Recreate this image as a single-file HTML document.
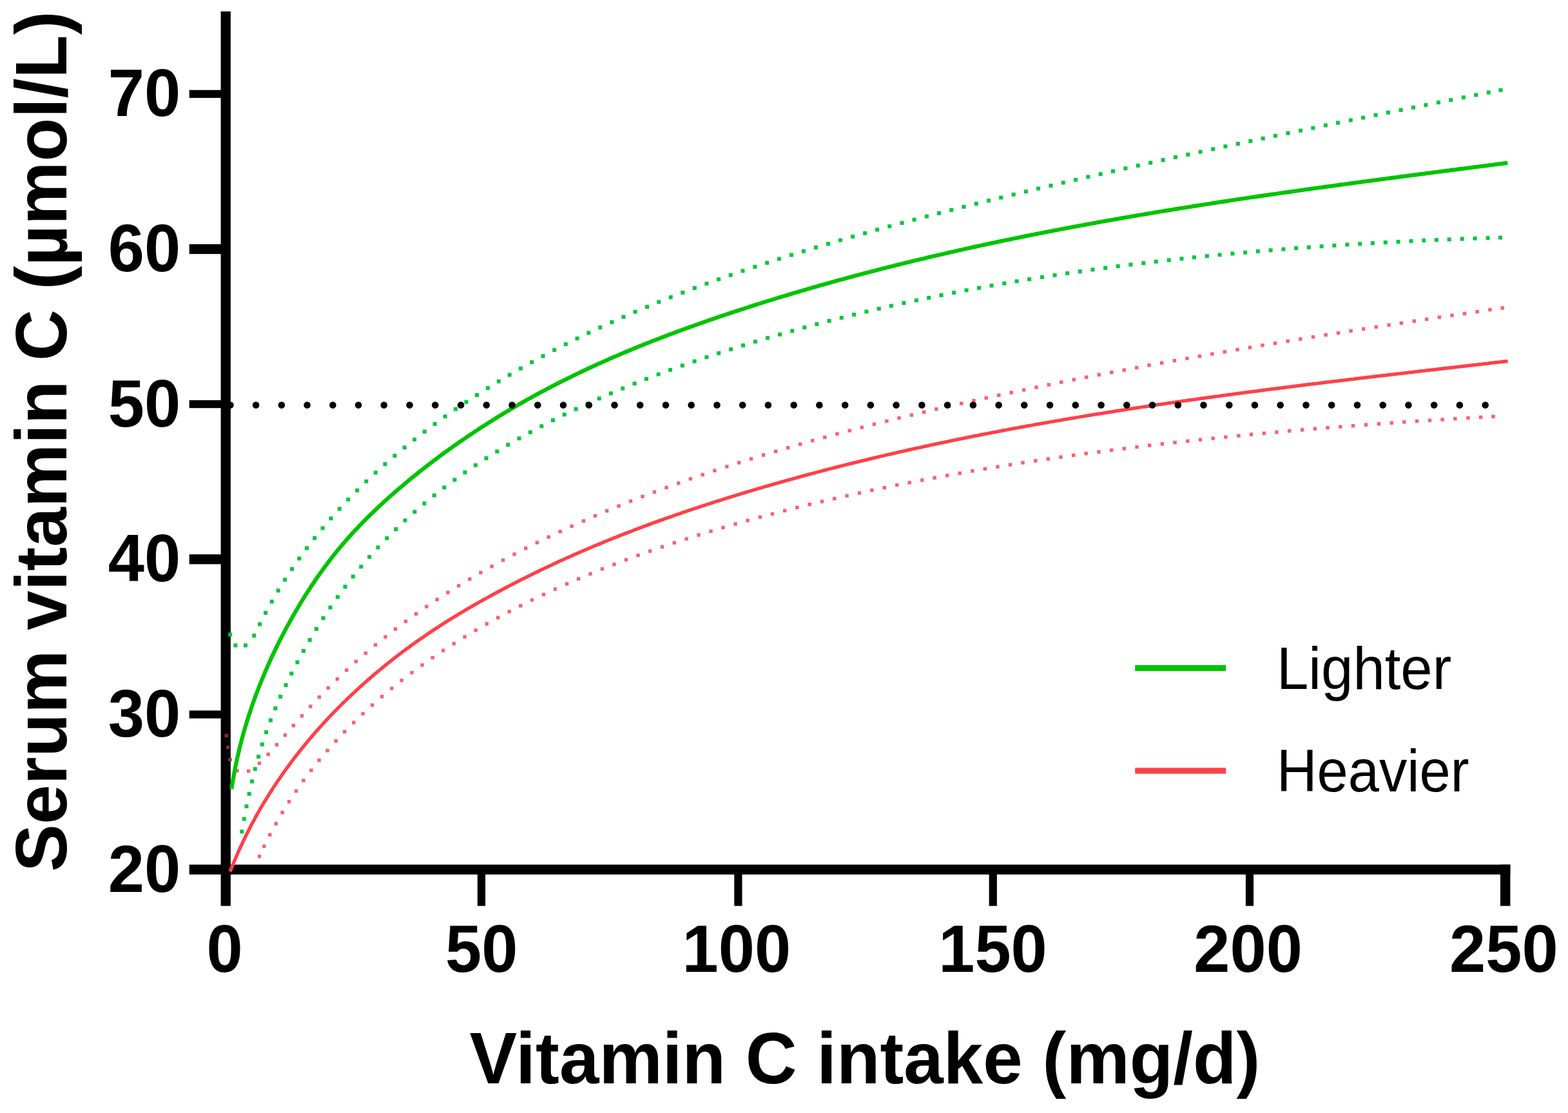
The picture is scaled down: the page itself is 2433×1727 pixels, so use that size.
<!DOCTYPE html>
<html><head><meta charset="utf-8"><title>Serum vitamin C vs intake</title>
<style>
html,body{margin:0;padding:0;background:#fff;}
svg{display:block;}
text{font-family:"Liberation Sans",Arial,Helvetica,sans-serif;fill:#000;}
</style></head><body>
<svg width="2433" height="1727" viewBox="0 0 2433 1727">
<rect width="2433" height="1727" fill="#fff"/>
<g fill="#000"><rect x="342.6" y="17.7" width="15.3" height="1388.0"/><rect x="293.7" y="1341.6" width="2049.7" height="15.3"/><rect x="293.7" y="1102.5" width="49.9" height="12.2"/><rect x="293.7" y="860.2" width="49.9" height="15.2"/><rect x="293.7" y="621.0" width="49.9" height="12.2"/><rect x="293.7" y="378.9" width="49.9" height="15.2"/><rect x="293.7" y="139.7" width="49.9" height="12.2"/><rect x="740.9" y="1355.9" width="12.2" height="49.8"/><rect x="1139.3" y="1355.9" width="12.2" height="49.8"/><rect x="1534.7" y="1355.9" width="12.2" height="49.8"/><rect x="1932.9" y="1355.9" width="12.2" height="49.8"/><rect x="2328" y="1341.6" width="15.4" height="64.1"/></g>
<g font-size="104" font-weight="bold"><text x="280.3" y="1383.8" text-anchor="end" transform="translate(280.3 0) scale(0.972 1) translate(-280.3 0)">20</text><text x="280.3" y="1143.1" text-anchor="end" transform="translate(280.3 0) scale(0.972 1) translate(-280.3 0)">30</text><text x="280.3" y="902.5" text-anchor="end" transform="translate(280.3 0) scale(0.972 1) translate(-280.3 0)">40</text><text x="280.3" y="661.8" text-anchor="end" transform="translate(280.3 0) scale(0.972 1) translate(-280.3 0)">50</text><text x="280.3" y="421.1" text-anchor="end" transform="translate(280.3 0) scale(0.972 1) translate(-280.3 0)">60</text><text x="280.3" y="180.3" text-anchor="end" transform="translate(280.3 0) scale(0.972 1) translate(-280.3 0)">70</text><text x="348.5" y="1508.0" text-anchor="middle" transform="translate(348.5 0) scale(0.972 1) translate(-348.5 0)">0</text><text x="747.2" y="1508.0" text-anchor="middle" transform="translate(747.2 0) scale(0.972 1) translate(-747.2 0)">50</text><text x="1142.8" y="1508.0" text-anchor="middle" transform="translate(1142.8 0) scale(0.972 1) translate(-1142.8 0)">100</text><text x="1540.5" y="1508.0" text-anchor="middle" transform="translate(1540.5 0) scale(0.972 1) translate(-1540.5 0)">150</text><text x="1936.6" y="1508.0" text-anchor="middle" transform="translate(1936.6 0) scale(0.972 1) translate(-1936.6 0)">200</text><text x="2333.4" y="1508.0" text-anchor="middle" transform="translate(2333.4 0) scale(0.972 1) translate(-2333.4 0)">250</text></g>
<g fill="#00c83a"><rect x="354.2" y="981.6" width="6.0" height="6.0" fill="#00c83a"/><rect x="362.4" y="998.4" width="6.0" height="6.0" fill="#00c83a"/><rect x="378.0" y="998.4" width="6.0" height="6.0" fill="#00c83a"/><rect x="391.3" y="983.3" width="6.0" height="6.0"/><rect x="400.0" y="965.5" width="6.0" height="6.0"/><rect x="409.1" y="947.9" width="6.0" height="6.0"/><rect x="418.7" y="930.5" width="6.0" height="6.0"/><rect x="428.7" y="913.4" width="6.0" height="6.0"/><rect x="439.1" y="896.5" width="6.0" height="6.0"/><rect x="450.0" y="879.9" width="6.0" height="6.0"/><rect x="461.3" y="863.6" width="6.0" height="6.0"/><rect x="473.1" y="847.6" width="6.0" height="6.0"/><rect x="485.2" y="831.9" width="6.0" height="6.0"/><rect x="497.7" y="816.5" width="6.0" height="6.0"/><rect x="510.5" y="801.4" width="6.0" height="6.0"/><rect x="523.8" y="786.6" width="6.0" height="6.0"/><rect x="537.3" y="772.1" width="6.0" height="6.0"/><rect x="551.2" y="757.9" width="6.0" height="6.0"/><rect x="565.3" y="744.0" width="6.0" height="6.0"/><rect x="579.8" y="730.4" width="6.0" height="6.0"/><rect x="594.5" y="717.1" width="6.0" height="6.0"/><rect x="609.4" y="704.1" width="6.0" height="6.0"/><rect x="624.7" y="691.4" width="6.0" height="6.0"/><rect x="640.1" y="678.9" width="6.0" height="6.0"/><rect x="655.8" y="666.7" width="6.0" height="6.0"/><rect x="671.7" y="654.8" width="6.0" height="6.0"/><rect x="687.7" y="643.2" width="6.0" height="6.0"/><rect x="704.0" y="631.8" width="6.0" height="6.0"/><rect x="720.5" y="620.7" width="6.0" height="6.0"/><rect x="737.0" y="609.9" width="6.0" height="6.0"/><rect x="753.8" y="599.2" width="6.0" height="6.0"/><rect x="770.8" y="588.8" width="6.0" height="6.0"/><rect x="787.7" y="578.7" width="6.0" height="6.0"/><rect x="804.9" y="568.7" width="6.0" height="6.0"/><rect x="822.2" y="559.0" width="6.0" height="6.0"/><rect x="839.6" y="549.5" width="6.0" height="6.0"/><rect x="857.2" y="540.1" width="6.0" height="6.0"/><rect x="874.8" y="531.1" width="6.0" height="6.0"/><rect x="892.6" y="522.2" width="6.0" height="6.0"/><rect x="910.3" y="513.5" width="6.0" height="6.0"/><rect x="928.3" y="505.0" width="6.0" height="6.0"/><rect x="946.4" y="496.8" width="6.0" height="6.0"/><rect x="964.5" y="488.7" width="6.0" height="6.0"/><rect x="982.6" y="480.8" width="6.0" height="6.0"/><rect x="1001.0" y="473.1" width="6.0" height="6.0"/><rect x="1019.3" y="465.5" width="6.0" height="6.0"/><rect x="1037.7" y="458.2" width="6.0" height="6.0"/><rect x="1056.3" y="451.0" width="6.0" height="6.0"/><rect x="1074.8" y="444.0" width="6.0" height="6.0"/><rect x="1093.4" y="437.1" width="6.0" height="6.0"/><rect x="1112.1" y="430.4" width="6.0" height="6.0"/><rect x="1130.7" y="423.8" width="6.0" height="6.0"/><rect x="1149.5" y="417.3" width="6.0" height="6.0"/><rect x="1168.4" y="411.0" width="6.0" height="6.0"/><rect x="1187.1" y="404.8" width="6.0" height="6.0"/><rect x="1206.0" y="398.7" width="6.0" height="6.0"/><rect x="1225.0" y="392.6" width="6.0" height="6.0"/><rect x="1243.9" y="386.8" width="6.0" height="6.0"/><rect x="1263.0" y="380.9" width="6.0" height="6.0"/><rect x="1282.0" y="375.3" width="6.0" height="6.0"/><rect x="1301.0" y="369.7" width="6.0" height="6.0"/><rect x="1320.1" y="364.2" width="6.0" height="6.0"/><rect x="1339.2" y="358.8" width="6.0" height="6.0"/><rect x="1358.2" y="353.4" width="6.0" height="6.0"/><rect x="1377.3" y="348.2" width="6.0" height="6.0"/><rect x="1396.5" y="343.0" width="6.0" height="6.0"/><rect x="1415.6" y="337.8" width="6.0" height="6.0"/><rect x="1434.9" y="332.7" width="6.0" height="6.0"/><rect x="1454.0" y="327.8" width="6.0" height="6.0"/><rect x="1473.3" y="322.8" width="6.0" height="6.0"/><rect x="1492.4" y="317.9" width="6.0" height="6.0"/><rect x="1511.8" y="313.1" width="6.0" height="6.0"/><rect x="1531.1" y="308.3" width="6.0" height="6.0"/><rect x="1550.2" y="303.6" width="6.0" height="6.0"/><rect x="1569.7" y="298.8" width="6.0" height="6.0"/><rect x="1588.9" y="294.2" width="6.0" height="6.0"/><rect x="1608.1" y="289.6" width="6.0" height="6.0"/><rect x="1627.5" y="285.0" width="6.0" height="6.0"/><rect x="1646.7" y="280.5" width="6.0" height="6.0"/><rect x="1666.0" y="276.0" width="6.0" height="6.0"/><rect x="1685.3" y="271.5" width="6.0" height="6.0"/><rect x="1704.7" y="267.1" width="6.0" height="6.0"/><rect x="1724.0" y="262.6" width="6.0" height="6.0"/><rect x="1743.4" y="258.3" width="6.0" height="6.0"/><rect x="1762.8" y="253.9" width="6.0" height="6.0"/><rect x="1782.2" y="249.6" width="6.0" height="6.0"/><rect x="1801.6" y="245.3" width="6.0" height="6.0"/><rect x="1820.9" y="241.0" width="6.0" height="6.0"/><rect x="1840.3" y="236.8" width="6.0" height="6.0"/><rect x="1859.6" y="232.6" width="6.0" height="6.0"/><rect x="1879.2" y="228.4" width="6.0" height="6.0"/><rect x="1898.4" y="224.2" width="6.0" height="6.0"/><rect x="1917.9" y="220.0" width="6.0" height="6.0"/><rect x="1937.3" y="215.9" width="6.0" height="6.0"/><rect x="1956.7" y="211.8" width="6.0" height="6.0"/><rect x="1976.0" y="207.7" width="6.0" height="6.0"/><rect x="1995.5" y="203.6" width="6.0" height="6.0"/><rect x="2015.0" y="199.6" width="6.0" height="6.0"/><rect x="2034.4" y="195.6" width="6.0" height="6.0"/><rect x="2053.9" y="191.5" width="6.0" height="6.0"/><rect x="2073.1" y="187.5" width="6.0" height="6.0"/><rect x="2092.8" y="183.5" width="6.0" height="6.0"/><rect x="2112.1" y="179.6" width="6.0" height="6.0"/><rect x="2131.6" y="175.6" width="6.0" height="6.0"/><rect x="2151.0" y="171.6" width="6.0" height="6.0"/><rect x="2170.6" y="167.7" width="6.0" height="6.0"/><rect x="2190.0" y="163.8" width="6.0" height="6.0"/><rect x="2209.4" y="159.9" width="6.0" height="6.0"/><rect x="2228.9" y="156.0" width="6.0" height="6.0"/><rect x="2248.2" y="152.1" width="6.0" height="6.0"/><rect x="2267.8" y="148.2" width="6.0" height="6.0"/><rect x="2287.2" y="144.4" width="6.0" height="6.0"/><rect x="2306.8" y="140.5" width="6.0" height="6.0"/><rect x="2325.5" y="136.8" width="6.0" height="6.0"/></g>
<g fill="#00c83a"><rect x="372.3" y="1287.3" width="6.0" height="6.0"/><rect x="375.8" y="1267.7" width="6.0" height="6.0"/><rect x="379.5" y="1248.2" width="6.0" height="6.0"/><rect x="383.6" y="1228.8" width="6.0" height="6.0"/><rect x="388.0" y="1209.5" width="6.0" height="6.0"/><rect x="392.8" y="1190.2" width="6.0" height="6.0"/><rect x="398.1" y="1171.1" width="6.0" height="6.0"/><rect x="403.8" y="1152.1" width="6.0" height="6.0"/><rect x="410.1" y="1133.2" width="6.0" height="6.0"/><rect x="416.9" y="1114.6" width="6.0" height="6.0"/><rect x="424.3" y="1096.2" width="6.0" height="6.0"/><rect x="432.1" y="1078.0" width="6.0" height="6.0"/><rect x="440.5" y="1060.0" width="6.0" height="6.0"/><rect x="449.2" y="1042.2" width="6.0" height="6.0"/><rect x="458.4" y="1024.6" width="6.0" height="6.0"/><rect x="467.9" y="1007.1" width="6.0" height="6.0"/><rect x="477.7" y="989.9" width="6.0" height="6.0"/><rect x="487.9" y="972.9" width="6.0" height="6.0"/><rect x="498.5" y="956.1" width="6.0" height="6.0"/><rect x="509.5" y="939.6" width="6.0" height="6.0"/><rect x="520.9" y="923.3" width="6.0" height="6.0"/><rect x="532.6" y="907.4" width="6.0" height="6.0"/><rect x="544.8" y="891.6" width="6.0" height="6.0"/><rect x="557.3" y="876.3" width="6.0" height="6.0"/><rect x="570.2" y="861.2" width="6.0" height="6.0"/><rect x="583.5" y="846.5" width="6.0" height="6.0"/><rect x="597.3" y="832.1" width="6.0" height="6.0"/><rect x="611.3" y="818.1" width="6.0" height="6.0"/><rect x="625.6" y="804.5" width="6.0" height="6.0"/><rect x="640.4" y="791.2" width="6.0" height="6.0"/><rect x="655.4" y="778.2" width="6.0" height="6.0"/><rect x="670.8" y="765.6" width="6.0" height="6.0"/><rect x="686.4" y="753.4" width="6.0" height="6.0"/><rect x="702.4" y="741.5" width="6.0" height="6.0"/><rect x="718.5" y="730.0" width="6.0" height="6.0"/><rect x="734.9" y="718.8" width="6.0" height="6.0"/><rect x="751.5" y="708.0" width="6.0" height="6.0"/><rect x="768.3" y="697.5" width="6.0" height="6.0"/><rect x="785.3" y="687.2" width="6.0" height="6.0"/><rect x="802.5" y="677.3" width="6.0" height="6.0"/><rect x="819.8" y="667.7" width="6.0" height="6.0"/><rect x="837.3" y="658.3" width="6.0" height="6.0"/><rect x="855.0" y="649.1" width="6.0" height="6.0"/><rect x="872.7" y="640.3" width="6.0" height="6.0"/><rect x="890.6" y="631.7" width="6.0" height="6.0"/><rect x="908.6" y="623.4" width="6.0" height="6.0"/><rect x="926.7" y="615.3" width="6.0" height="6.0"/><rect x="944.9" y="607.4" width="6.0" height="6.0"/><rect x="963.2" y="599.7" width="6.0" height="6.0"/><rect x="981.6" y="592.2" width="6.0" height="6.0"/><rect x="1000.0" y="584.9" width="6.0" height="6.0"/><rect x="1018.6" y="577.8" width="6.0" height="6.0"/><rect x="1037.1" y="570.9" width="6.0" height="6.0"/><rect x="1055.8" y="564.2" width="6.0" height="6.0"/><rect x="1074.6" y="557.6" width="6.0" height="6.0"/><rect x="1093.4" y="551.2" width="6.0" height="6.0"/><rect x="1112.2" y="545.0" width="6.0" height="6.0"/><rect x="1131.1" y="538.9" width="6.0" height="6.0"/><rect x="1150.0" y="532.9" width="6.0" height="6.0"/><rect x="1169.0" y="527.1" width="6.0" height="6.0"/><rect x="1188.0" y="521.4" width="6.0" height="6.0"/><rect x="1207.0" y="515.9" width="6.0" height="6.0"/><rect x="1226.2" y="510.4" width="6.0" height="6.0"/><rect x="1245.3" y="505.1" width="6.0" height="6.0"/><rect x="1264.4" y="500.0" width="6.0" height="6.0"/><rect x="1283.7" y="494.9" width="6.0" height="6.0"/><rect x="1302.8" y="490.0" width="6.0" height="6.0"/><rect x="1322.1" y="485.2" width="6.0" height="6.0"/><rect x="1341.4" y="480.5" width="6.0" height="6.0"/><rect x="1360.8" y="476.0" width="6.0" height="6.0"/><rect x="1379.9" y="471.6" width="6.0" height="6.0"/><rect x="1399.4" y="467.2" width="6.0" height="6.0"/><rect x="1418.9" y="463.0" width="6.0" height="6.0"/><rect x="1438.2" y="459.0" width="6.0" height="6.0"/><rect x="1457.6" y="455.0" width="6.0" height="6.0"/><rect x="1477.2" y="451.1" width="6.0" height="6.0"/><rect x="1496.6" y="447.4" width="6.0" height="6.0"/><rect x="1516.1" y="443.7" width="6.0" height="6.0"/><rect x="1535.6" y="440.2" width="6.0" height="6.0"/><rect x="1555.3" y="436.7" width="6.0" height="6.0"/><rect x="1574.7" y="433.4" width="6.0" height="6.0"/><rect x="1594.2" y="430.2" width="6.0" height="6.0"/><rect x="1614.0" y="427.0" width="6.0" height="6.0"/><rect x="1633.6" y="424.0" width="6.0" height="6.0"/><rect x="1653.2" y="421.0" width="6.0" height="6.0"/><rect x="1672.8" y="418.2" width="6.0" height="6.0"/><rect x="1692.5" y="415.4" width="6.0" height="6.0"/><rect x="1712.1" y="412.7" width="6.0" height="6.0"/><rect x="1731.7" y="410.1" width="6.0" height="6.0"/><rect x="1751.4" y="407.6" width="6.0" height="6.0"/><rect x="1771.3" y="405.2" width="6.0" height="6.0"/><rect x="1790.8" y="402.9" width="6.0" height="6.0"/><rect x="1810.7" y="400.6" width="6.0" height="6.0"/><rect x="1830.5" y="398.4" width="6.0" height="6.0"/><rect x="1849.9" y="396.3" width="6.0" height="6.0"/><rect x="1869.9" y="394.3" width="6.0" height="6.0"/><rect x="1889.5" y="392.4" width="6.0" height="6.0"/><rect x="1909.4" y="390.5" width="6.0" height="6.0"/><rect x="1929.2" y="388.7" width="6.0" height="6.0"/><rect x="1948.9" y="386.9" width="6.0" height="6.0"/><rect x="1968.6" y="385.3" width="6.0" height="6.0"/><rect x="1988.4" y="383.7" width="6.0" height="6.0"/><rect x="2008.2" y="382.1" width="6.0" height="6.0"/><rect x="2027.8" y="380.7" width="6.0" height="6.0"/><rect x="2047.7" y="379.3" width="6.0" height="6.0"/><rect x="2067.4" y="377.9" width="6.0" height="6.0"/><rect x="2087.4" y="376.6" width="6.0" height="6.0"/><rect x="2107.2" y="375.4" width="6.0" height="6.0"/><rect x="2126.9" y="374.3" width="6.0" height="6.0"/><rect x="2146.8" y="373.2" width="6.0" height="6.0"/><rect x="2166.6" y="372.1" width="6.0" height="6.0"/><rect x="2186.5" y="371.1" width="6.0" height="6.0"/><rect x="2206.3" y="370.2" width="6.0" height="6.0"/><rect x="2225.9" y="369.3" width="6.0" height="6.0"/><rect x="2245.7" y="368.5" width="6.0" height="6.0"/><rect x="2265.7" y="367.7" width="6.0" height="6.0"/><rect x="2285.6" y="367.0" width="6.0" height="6.0"/><rect x="2305.6" y="366.3" width="6.0" height="6.0"/><rect x="2325.0" y="365.7" width="6.0" height="6.0"/></g>
<g fill="#ff5f6c"><rect x="348.5" y="1138.6" width="5.4" height="5.4" fill="#8a2a2a"/><rect x="350.9" y="1157.0" width="5.4" height="5.4" fill="#8a2a2a"/><rect x="354.1" y="1175.8" width="5.4" height="5.4" fill="#a03030"/><rect x="365.3" y="1193.3" width="5.4" height="5.4" fill="#ff5f6c"/><rect x="382.9" y="1193.9" width="5.4" height="5.4" fill="#ff5f6c"/><rect x="399.7" y="1181.6" width="5.4" height="5.4"/><rect x="413.5" y="1167.8" width="5.4" height="5.4"/><rect x="426.7" y="1153.0" width="5.4" height="5.4"/><rect x="439.7" y="1138.0" width="5.4" height="5.4"/><rect x="452.6" y="1123.0" width="5.4" height="5.4"/><rect x="465.8" y="1108.1" width="5.4" height="5.4"/><rect x="479.1" y="1093.4" width="5.4" height="5.4"/><rect x="492.7" y="1079.0" width="5.4" height="5.4"/><rect x="506.6" y="1064.8" width="5.4" height="5.4"/><rect x="520.7" y="1050.9" width="5.4" height="5.4"/><rect x="535.1" y="1037.2" width="5.4" height="5.4"/><rect x="549.7" y="1023.8" width="5.4" height="5.4"/><rect x="564.6" y="1010.8" width="5.4" height="5.4"/><rect x="579.8" y="998.0" width="5.4" height="5.4"/><rect x="595.3" y="985.5" width="5.4" height="5.4"/><rect x="610.9" y="973.3" width="5.4" height="5.4"/><rect x="626.8" y="961.4" width="5.4" height="5.4"/><rect x="642.9" y="949.9" width="5.4" height="5.4"/><rect x="659.2" y="938.5" width="5.4" height="5.4"/><rect x="675.6" y="927.5" width="5.4" height="5.4"/><rect x="692.3" y="916.7" width="5.4" height="5.4"/><rect x="709.1" y="906.2" width="5.4" height="5.4"/><rect x="726.1" y="895.9" width="5.4" height="5.4"/><rect x="743.2" y="885.8" width="5.4" height="5.4"/><rect x="760.4" y="876.1" width="5.4" height="5.4"/><rect x="777.8" y="866.5" width="5.4" height="5.4"/><rect x="795.4" y="857.2" width="5.4" height="5.4"/><rect x="813.0" y="848.1" width="5.4" height="5.4"/><rect x="830.7" y="839.2" width="5.4" height="5.4"/><rect x="848.5" y="830.5" width="5.4" height="5.4"/><rect x="866.5" y="822.0" width="5.4" height="5.4"/><rect x="884.5" y="813.7" width="5.4" height="5.4"/><rect x="902.6" y="805.6" width="5.4" height="5.4"/><rect x="920.8" y="797.7" width="5.4" height="5.4"/><rect x="939.0" y="790.0" width="5.4" height="5.4"/><rect x="957.4" y="782.4" width="5.4" height="5.4"/><rect x="975.9" y="775.0" width="5.4" height="5.4"/><rect x="994.3" y="767.7" width="5.4" height="5.4"/><rect x="1012.8" y="760.7" width="5.4" height="5.4"/><rect x="1031.4" y="753.8" width="5.4" height="5.4"/><rect x="1050.1" y="747.0" width="5.4" height="5.4"/><rect x="1068.7" y="740.3" width="5.4" height="5.4"/><rect x="1087.5" y="733.8" width="5.4" height="5.4"/><rect x="1106.2" y="727.5" width="5.4" height="5.4"/><rect x="1125.1" y="721.3" width="5.4" height="5.4"/><rect x="1144.0" y="715.2" width="5.4" height="5.4"/><rect x="1162.9" y="709.2" width="5.4" height="5.4"/><rect x="1181.9" y="703.3" width="5.4" height="5.4"/><rect x="1200.9" y="697.6" width="5.4" height="5.4"/><rect x="1219.9" y="692.0" width="5.4" height="5.4"/><rect x="1239.0" y="686.5" width="5.4" height="5.4"/><rect x="1258.1" y="681.0" width="5.4" height="5.4"/><rect x="1277.1" y="675.8" width="5.4" height="5.4"/><rect x="1296.3" y="670.5" width="5.4" height="5.4"/><rect x="1315.5" y="665.5" width="5.4" height="5.4"/><rect x="1334.6" y="660.5" width="5.4" height="5.4"/><rect x="1353.8" y="655.5" width="5.4" height="5.4"/><rect x="1373.2" y="650.7" width="5.4" height="5.4"/><rect x="1392.3" y="645.9" width="5.4" height="5.4"/><rect x="1411.7" y="641.3" width="5.4" height="5.4"/><rect x="1431.0" y="636.7" width="5.4" height="5.4"/><rect x="1450.2" y="632.1" width="5.4" height="5.4"/><rect x="1469.7" y="627.7" width="5.4" height="5.4"/><rect x="1489.0" y="623.3" width="5.4" height="5.4"/><rect x="1508.3" y="619.0" width="5.4" height="5.4"/><rect x="1527.6" y="614.7" width="5.4" height="5.4"/><rect x="1547.1" y="610.5" width="5.4" height="5.4"/><rect x="1566.5" y="606.4" width="5.4" height="5.4"/><rect x="1585.9" y="602.3" width="5.4" height="5.4"/><rect x="1605.3" y="598.2" width="5.4" height="5.4"/><rect x="1624.7" y="594.3" width="5.4" height="5.4"/><rect x="1644.1" y="590.3" width="5.4" height="5.4"/><rect x="1663.6" y="586.4" width="5.4" height="5.4"/><rect x="1683.0" y="582.6" width="5.4" height="5.4"/><rect x="1702.6" y="578.8" width="5.4" height="5.4"/><rect x="1722.0" y="575.1" width="5.4" height="5.4"/><rect x="1741.5" y="571.4" width="5.4" height="5.4"/><rect x="1761.0" y="567.7" width="5.4" height="5.4"/><rect x="1780.4" y="564.1" width="5.4" height="5.4"/><rect x="1799.9" y="560.5" width="5.4" height="5.4"/><rect x="1819.7" y="556.9" width="5.4" height="5.4"/><rect x="1839.2" y="553.4" width="5.4" height="5.4"/><rect x="1858.7" y="550.0" width="5.4" height="5.4"/><rect x="1878.2" y="546.5" width="5.4" height="5.4"/><rect x="1897.6" y="543.2" width="5.4" height="5.4"/><rect x="1917.3" y="539.8" width="5.4" height="5.4"/><rect x="1936.7" y="536.5" width="5.4" height="5.4"/><rect x="1956.3" y="533.1" width="5.4" height="5.4"/><rect x="1975.9" y="529.9" width="5.4" height="5.4"/><rect x="1995.4" y="526.6" width="5.4" height="5.4"/><rect x="2015.1" y="523.4" width="5.4" height="5.4"/><rect x="2034.8" y="520.2" width="5.4" height="5.4"/><rect x="2054.4" y="517.0" width="5.4" height="5.4"/><rect x="2073.9" y="513.9" width="5.4" height="5.4"/><rect x="2093.4" y="510.8" width="5.4" height="5.4"/><rect x="2113.0" y="507.7" width="5.4" height="5.4"/><rect x="2132.6" y="504.6" width="5.4" height="5.4"/><rect x="2152.4" y="501.5" width="5.4" height="5.4"/><rect x="2171.7" y="498.6" width="5.4" height="5.4"/><rect x="2191.6" y="495.5" width="5.4" height="5.4"/><rect x="2211.0" y="492.6" width="5.4" height="5.4"/><rect x="2230.7" y="489.6" width="5.4" height="5.4"/><rect x="2250.2" y="486.7" width="5.4" height="5.4"/><rect x="2269.9" y="483.8" width="5.4" height="5.4"/><rect x="2289.5" y="480.9" width="5.4" height="5.4"/><rect x="2309.2" y="478.0" width="5.4" height="5.4"/><rect x="2328.5" y="475.2" width="5.4" height="5.4"/></g>
<g fill="#ff5f6c"><rect x="399.8" y="1326.2" width="5.4" height="5.4"/><rect x="407.1" y="1310.4" width="5.4" height="5.4"/><rect x="416.0" y="1292.6" width="5.4" height="5.4"/><rect x="425.4" y="1275.2" width="5.4" height="5.4"/><rect x="435.4" y="1258.0" width="5.4" height="5.4"/><rect x="445.8" y="1241.2" width="5.4" height="5.4"/><rect x="456.8" y="1224.6" width="5.4" height="5.4"/><rect x="468.2" y="1208.4" width="5.4" height="5.4"/><rect x="480.2" y="1192.6" width="5.4" height="5.4"/><rect x="492.5" y="1177.1" width="5.4" height="5.4"/><rect x="505.3" y="1161.9" width="5.4" height="5.4"/><rect x="518.5" y="1147.1" width="5.4" height="5.4"/><rect x="532.1" y="1132.6" width="5.4" height="5.4"/><rect x="546.1" y="1118.5" width="5.4" height="5.4"/><rect x="560.4" y="1104.7" width="5.4" height="5.4"/><rect x="575.0" y="1091.3" width="5.4" height="5.4"/><rect x="589.9" y="1078.2" width="5.4" height="5.4"/><rect x="605.1" y="1065.5" width="5.4" height="5.4"/><rect x="620.5" y="1053.1" width="5.4" height="5.4"/><rect x="636.3" y="1041.0" width="5.4" height="5.4"/><rect x="652.3" y="1029.3" width="5.4" height="5.4"/><rect x="668.5" y="1017.8" width="5.4" height="5.4"/><rect x="684.9" y="1006.7" width="5.4" height="5.4"/><rect x="701.6" y="995.9" width="5.4" height="5.4"/><rect x="718.4" y="985.4" width="5.4" height="5.4"/><rect x="735.5" y="975.2" width="5.4" height="5.4"/><rect x="752.6" y="965.3" width="5.4" height="5.4"/><rect x="770.0" y="955.7" width="5.4" height="5.4"/><rect x="787.5" y="946.3" width="5.4" height="5.4"/><rect x="805.1" y="937.2" width="5.4" height="5.4"/><rect x="822.9" y="928.3" width="5.4" height="5.4"/><rect x="840.7" y="919.8" width="5.4" height="5.4"/><rect x="858.7" y="911.4" width="5.4" height="5.4"/><rect x="876.9" y="903.3" width="5.4" height="5.4"/><rect x="895.0" y="895.4" width="5.4" height="5.4"/><rect x="913.3" y="887.7" width="5.4" height="5.4"/><rect x="931.7" y="880.2" width="5.4" height="5.4"/><rect x="950.2" y="873.0" width="5.4" height="5.4"/><rect x="968.7" y="865.9" width="5.4" height="5.4"/><rect x="987.4" y="859.0" width="5.4" height="5.4"/><rect x="1006.0" y="852.4" width="5.4" height="5.4"/><rect x="1024.8" y="845.9" width="5.4" height="5.4"/><rect x="1043.6" y="839.5" width="5.4" height="5.4"/><rect x="1062.4" y="833.4" width="5.4" height="5.4"/><rect x="1081.4" y="827.4" width="5.4" height="5.4"/><rect x="1100.3" y="821.6" width="5.4" height="5.4"/><rect x="1119.3" y="815.9" width="5.4" height="5.4"/><rect x="1138.4" y="810.4" width="5.4" height="5.4"/><rect x="1157.4" y="805.0" width="5.4" height="5.4"/><rect x="1176.7" y="799.7" width="5.4" height="5.4"/><rect x="1195.8" y="794.7" width="5.4" height="5.4"/><rect x="1215.0" y="789.7" width="5.4" height="5.4"/><rect x="1234.2" y="784.8" width="5.4" height="5.4"/><rect x="1253.5" y="780.1" width="5.4" height="5.4"/><rect x="1272.8" y="775.4" width="5.4" height="5.4"/><rect x="1292.1" y="770.9" width="5.4" height="5.4"/><rect x="1311.4" y="766.6" width="5.4" height="5.4"/><rect x="1330.8" y="762.3" width="5.4" height="5.4"/><rect x="1350.2" y="758.1" width="5.4" height="5.4"/><rect x="1369.6" y="754.0" width="5.4" height="5.4"/><rect x="1389.1" y="750.0" width="5.4" height="5.4"/><rect x="1408.5" y="746.1" width="5.4" height="5.4"/><rect x="1428.1" y="742.3" width="5.4" height="5.4"/><rect x="1447.5" y="738.7" width="5.4" height="5.4"/><rect x="1467.0" y="735.1" width="5.4" height="5.4"/><rect x="1486.6" y="731.6" width="5.4" height="5.4"/><rect x="1506.2" y="728.1" width="5.4" height="5.4"/><rect x="1525.7" y="724.8" width="5.4" height="5.4"/><rect x="1545.3" y="721.6" width="5.4" height="5.4"/><rect x="1564.8" y="718.4" width="5.4" height="5.4"/><rect x="1584.4" y="715.3" width="5.4" height="5.4"/><rect x="1604.1" y="712.3" width="5.4" height="5.4"/><rect x="1623.7" y="709.4" width="5.4" height="5.4"/><rect x="1643.3" y="706.5" width="5.4" height="5.4"/><rect x="1663.0" y="703.7" width="5.4" height="5.4"/><rect x="1682.5" y="701.0" width="5.4" height="5.4"/><rect x="1702.3" y="698.4" width="5.4" height="5.4"/><rect x="1721.9" y="695.8" width="5.4" height="5.4"/><rect x="1741.6" y="693.3" width="5.4" height="5.4"/><rect x="1761.3" y="690.8" width="5.4" height="5.4"/><rect x="1781.0" y="688.4" width="5.4" height="5.4"/><rect x="1800.7" y="686.1" width="5.4" height="5.4"/><rect x="1820.4" y="683.9" width="5.4" height="5.4"/><rect x="1840.1" y="681.7" width="5.4" height="5.4"/><rect x="1859.8" y="679.5" width="5.4" height="5.4"/><rect x="1879.5" y="677.4" width="5.4" height="5.4"/><rect x="1899.2" y="675.4" width="5.4" height="5.4"/><rect x="1919.2" y="673.4" width="5.4" height="5.4"/><rect x="1938.8" y="671.5" width="5.4" height="5.4"/><rect x="1958.7" y="669.6" width="5.4" height="5.4"/><rect x="1978.2" y="667.8" width="5.4" height="5.4"/><rect x="1998.0" y="666.0" width="5.4" height="5.4"/><rect x="2018.0" y="664.3" width="5.4" height="5.4"/><rect x="2037.7" y="662.6" width="5.4" height="5.4"/><rect x="2057.3" y="661.0" width="5.4" height="5.4"/><rect x="2077.1" y="659.4" width="5.4" height="5.4"/><rect x="2096.8" y="657.9" width="5.4" height="5.4"/><rect x="2116.8" y="656.4" width="5.4" height="5.4"/><rect x="2136.7" y="654.9" width="5.4" height="5.4"/><rect x="2156.5" y="653.5" width="5.4" height="5.4"/><rect x="2176.1" y="652.1" width="5.4" height="5.4"/><rect x="2196.0" y="650.8" width="5.4" height="5.4"/><rect x="2215.8" y="649.5" width="5.4" height="5.4"/><rect x="2235.4" y="648.3" width="5.4" height="5.4"/><rect x="2255.2" y="647.0" width="5.4" height="5.4"/><rect x="2275.3" y="645.8" width="5.4" height="5.4"/><rect x="2294.9" y="644.7" width="5.4" height="5.4"/><rect x="2314.3" y="643.6" width="5.4" height="5.4"/></g>
<path d="M359.3 1224.2 L359.8 1220.8 L360.3 1217.5 L360.9 1214.1 L361.4 1210.8 L362.0 1207.4 L362.6 1204.1 L363.2 1200.7 L363.8 1197.4 L364.5 1194.1 L365.1 1190.7 L365.8 1187.4 L366.5 1184.1 L367.2 1180.8 L367.9 1177.5 L368.6 1174.2 L369.4 1170.9 L370.2 1167.6 L370.9 1164.3 L371.7 1161.0 L372.5 1157.8 L373.4 1154.5 L374.2 1151.2 L375.1 1147.9 L375.9 1144.7 L376.8 1141.4 L377.7 1138.2 L378.6 1134.9 L379.6 1131.7 L380.5 1128.4 L381.5 1125.2 L382.4 1122.0 L383.4 1118.8 L384.4 1115.5 L385.4 1112.3 L386.5 1109.1 L387.5 1105.9 L388.6 1102.7 L389.6 1099.5 L390.7 1096.3 L391.8 1093.1 L392.9 1090.0 L394.1 1086.8 L395.2 1083.6 L396.4 1080.4 L397.5 1077.3 L398.7 1074.1 L399.9 1071.0 L401.1 1067.8 L402.4 1064.7 L403.6 1061.6 L404.9 1058.4 L406.1 1055.3 L407.4 1052.2 L408.7 1049.1 L410.0 1046.0 L411.3 1042.9 L412.6 1039.8 L414.0 1036.7 L415.3 1033.6 L416.7 1030.5 L418.1 1027.4 L419.5 1024.3 L420.9 1021.3 L422.3 1018.2 L423.8 1015.1 L425.2 1012.1 L426.7 1009.0 L428.1 1006.0 L429.6 1003.0 L431.1 999.9 L432.6 996.9 L434.1 993.9 L435.7 990.9 L437.2 987.9 L438.8 984.9 L440.4 981.9 L441.9 978.9 L443.5 975.9 L445.1 972.9 L446.7 969.9 L448.4 967.0 L450.0 964.0 L451.7 961.1 L453.3 958.1 L455.0 955.2 L456.7 952.2 L458.4 949.3 L460.1 946.4 L461.8 943.5 L463.6 940.5 L465.3 937.6 L467.1 934.7 L468.8 931.9 L470.6 929.0 L472.4 926.1 L474.2 923.2 L476.0 920.4 L477.9 917.5 L479.7 914.7 L481.6 911.9 L483.4 909.0 L485.3 906.2 L487.2 903.4 L489.1 900.6 L491.0 897.8 L492.9 895.0 L494.9 892.3 L496.8 889.5 L498.8 886.8 L500.8 884.0 L502.7 881.3 L504.7 878.6 L506.8 875.9 L508.8 873.2 L510.8 870.5 L512.9 867.8 L514.9 865.1 L517.0 862.5 L519.1 859.8 L521.2 857.2 L523.3 854.6 L525.5 852.0 L527.6 849.4 L529.8 846.8 L532.0 844.3 L534.2 841.7 L536.4 839.2 L538.6 836.6 L540.8 834.1 L543.1 831.6 L545.3 829.1 L547.6 826.6 L549.9 824.2 L552.2 821.7 L554.5 819.3 L556.8 816.8 L559.1 814.4 L561.5 812.0 L563.8 809.6 L566.2 807.2 L568.6 804.8 L570.9 802.4 L573.3 800.1 L575.7 797.7 L578.2 795.4 L580.6 793.0 L583.0 790.7 L585.5 788.4 L587.9 786.1 L590.4 783.8 L592.8 781.5 L595.3 779.2 L597.8 777.0 L600.3 774.7 L602.8 772.5 L605.3 770.2 L607.9 768.0 L610.4 765.8 L612.9 763.6 L615.5 761.3 L618.0 759.1 L620.6 757.0 L623.2 754.8 L625.8 752.6 L628.3 750.4 L630.9 748.3 L633.5 746.1 L636.1 744.0 L638.7 741.8 L641.4 739.7 L644.0 737.6 L646.6 735.5 L649.2 733.4 L651.9 731.3 L654.5 729.2 L657.2 727.1 L659.8 725.0 L662.5 722.9 L665.2 720.9 L667.9 718.8 L670.6 716.8 L673.2 714.7 L675.9 712.7 L678.6 710.7 L681.4 708.6 L684.1 706.6 L686.8 704.6 L689.5 702.6 L692.2 700.6 L695.0 698.7 L697.7 696.7 L700.5 694.7 L703.2 692.8 L706.0 690.8 L708.8 688.9 L711.5 686.9 L714.3 685.0 L717.1 683.1 L719.9 681.2 L722.7 679.3 L725.5 677.4 L728.3 675.5 L731.1 673.6 L733.9 671.7 L736.7 669.8 L739.5 668.0 L742.4 666.1 L745.2 664.3 L748.0 662.4 L750.9 660.6 L753.7 658.8 L756.6 657.0 L759.4 655.1 L762.3 653.3 L765.2 651.6 L768.0 649.8 L770.9 648.0 L773.8 646.2 L776.7 644.4 L779.6 642.7 L782.5 640.9 L785.4 639.2 L788.3 637.5 L791.2 635.7 L794.1 634.0 L797.0 632.3 L799.9 630.6 L802.9 628.9 L805.8 627.2 L808.7 625.5 L811.7 623.9 L814.6 622.2 L817.6 620.5 L820.5 618.9 L823.5 617.2 L826.4 615.6 L829.4 614.0 L832.4 612.3 L835.3 610.7 L838.3 609.1 L841.3 607.5 L844.3 605.9 L847.3 604.3 L850.3 602.8 L853.3 601.2 L856.3 599.6 L859.3 598.1 L862.3 596.5 L865.3 595.0 L868.3 593.5 L871.3 591.9 L874.3 590.4 L877.3 588.9 L880.4 587.4 L883.4 585.9 L886.4 584.4 L889.5 582.9 L892.5 581.5 L895.5 580.0 L898.6 578.5 L901.6 577.1 L904.7 575.6 L907.8 574.2 L910.8 572.7 L913.9 571.3 L916.9 569.9 L920.0 568.5 L923.1 567.1 L926.2 565.7 L929.2 564.3 L932.3 562.9 L935.4 561.5 L938.5 560.1 L941.6 558.8 L944.7 557.4 L947.8 556.0 L950.8 554.7 L953.9 553.4 L957.0 552.0 L960.2 550.7 L963.3 549.4 L966.4 548.0 L969.5 546.7 L972.6 545.4 L975.7 544.1 L978.8 542.8 L982.0 541.5 L985.1 540.2 L988.2 539.0 L991.3 537.7 L994.5 536.4 L997.6 535.2 L1000.7 533.9 L1003.9 532.6 L1007.0 531.4 L1010.2 530.2 L1013.3 528.9 L1016.5 527.7 L1019.6 526.5 L1022.8 525.3 L1025.9 524.0 L1029.1 522.8 L1032.2 521.6 L1035.4 520.4 L1038.6 519.2 L1041.7 518.0 L1044.9 516.9 L1048.1 515.7 L1051.2 514.5 L1054.4 513.3 L1057.6 512.2 L1060.7 511.0 L1063.9 509.8 L1067.1 508.7 L1070.3 507.5 L1073.5 506.4 L1076.6 505.3 L1079.8 504.1 L1083.0 503.0 L1086.2 501.9 L1089.4 500.8 L1092.6 499.6 L1095.8 498.5 L1099.0 497.4 L1102.2 496.3 L1105.4 495.2 L1108.5 494.1 L1111.7 493.0 L1114.9 491.9 L1118.1 490.8 L1121.4 489.8 L1124.6 488.7 L1127.8 487.6 L1131.0 486.5 L1134.2 485.5 L1137.4 484.4 L1140.6 483.4 L1143.8 482.3 L1147.0 481.2 L1150.2 480.2 L1153.4 479.2 L1156.6 478.1 L1159.9 477.1 L1163.1 476.0 L1166.3 475.0 L1169.5 474.0 L1172.7 473.0 L1176.0 471.9 L1179.2 470.9 L1182.4 469.9 L1185.6 468.9 L1188.8 467.9 L1192.1 466.9 L1195.3 465.9 L1198.5 464.9 L1201.7 463.9 L1205.0 462.9 L1208.2 461.9 L1211.4 460.9 L1214.7 459.9 L1217.9 459.0 L1221.1 458.0 L1224.4 457.0 L1227.6 456.0 L1230.8 455.1 L1234.1 454.1 L1237.3 453.2 L1240.5 452.2 L1243.8 451.3 L1247.0 450.3 L1250.3 449.4 L1253.5 448.4 L1256.7 447.5 L1260.0 446.5 L1263.2 445.6 L1266.5 444.7 L1269.7 443.7 L1273.0 442.8 L1276.2 441.9 L1279.5 441.0 L1282.7 440.1 L1286.0 439.2 L1289.2 438.2 L1292.5 437.3 L1295.7 436.4 L1299.0 435.5 L1302.2 434.6 L1305.5 433.8 L1308.7 432.9 L1312.0 432.0 L1315.2 431.1 L1318.5 430.2 L1321.8 429.3 L1325.0 428.5 L1328.3 427.6 L1331.5 426.7 L1334.8 425.8 L1338.1 425.0 L1341.3 424.1 L1344.6 423.3 L1347.9 422.4 L1351.1 421.6 L1354.4 420.7 L1357.7 419.9 L1360.9 419.0 L1364.2 418.2 L1367.5 417.3 L1370.7 416.5 L1374.0 415.7 L1377.3 414.8 L1380.6 414.0 L1383.8 413.2 L1387.1 412.4 L1390.4 411.5 L1393.6 410.7 L1396.9 409.9 L1400.2 409.1 L1403.5 408.3 L1406.8 407.5 L1410.0 406.7 L1413.3 405.9 L1416.6 405.1 L1419.9 404.3 L1423.2 403.5 L1426.4 402.7 L1429.7 401.9 L1433.0 401.2 L1436.3 400.4 L1439.6 399.6 L1442.9 398.8 L1446.2 398.0 L1449.4 397.3 L1452.7 396.5 L1456.0 395.7 L1459.3 395.0 L1462.6 394.2 L1465.9 393.5 L1469.2 392.7 L1472.5 391.9 L1475.8 391.2 L1479.1 390.5 L1482.3 389.7 L1485.6 389.0 L1488.9 388.2 L1492.2 387.5 L1495.5 386.7 L1498.8 386.0 L1502.1 385.3 L1505.4 384.6 L1508.7 383.8 L1512.0 383.1 L1515.3 382.4 L1518.6 381.7 L1521.9 381.0 L1525.2 380.2 L1528.5 379.5 L1531.8 378.8 L1535.1 378.1 L1538.4 377.4 L1541.7 376.7 L1545.0 376.0 L1548.3 375.3 L1551.6 374.6 L1555.0 373.9 L1558.3 373.2 L1561.6 372.5 L1564.9 371.9 L1568.2 371.2 L1571.5 370.5 L1574.8 369.8 L1578.1 369.1 L1581.4 368.5 L1584.7 367.8 L1588.0 367.1 L1591.4 366.4 L1594.7 365.8 L1598.0 365.1 L1601.3 364.4 L1604.6 363.8 L1607.9 363.1 L1611.2 362.5 L1614.6 361.8 L1617.9 361.2 L1621.2 360.5 L1624.5 359.9 L1627.8 359.2 L1631.1 358.6 L1634.5 357.9 L1637.8 357.3 L1641.1 356.7 L1644.4 356.0 L1647.7 355.4 L1651.1 354.8 L1654.4 354.1 L1657.7 353.5 L1661.0 352.9 L1664.3 352.3 L1667.7 351.6 L1671.0 351.0 L1674.3 350.4 L1677.6 349.8 L1681.0 349.2 L1684.3 348.6 L1687.6 347.9 L1690.9 347.3 L1694.3 346.7 L1697.6 346.1 L1700.9 345.5 L1704.2 344.9 L1707.6 344.3 L1710.9 343.7 L1714.2 343.1 L1717.6 342.5 L1720.9 341.9 L1724.2 341.4 L1727.6 340.8 L1730.9 340.2 L1734.2 339.6 L1737.5 339.0 L1740.9 338.4 L1744.2 337.8 L1747.5 337.3 L1750.9 336.7 L1754.2 336.1 L1757.5 335.5 L1760.9 335.0 L1764.2 334.4 L1767.5 333.8 L1770.9 333.3 L1774.2 332.7 L1777.5 332.1 L1780.9 331.6 L1784.2 331.0 L1787.5 330.5 L1790.9 329.9 L1794.2 329.4 L1797.6 328.8 L1800.9 328.2 L1804.2 327.7 L1807.6 327.1 L1810.9 326.6 L1814.2 326.1 L1817.6 325.5 L1820.9 325.0 L1824.3 324.4 L1827.6 323.9 L1830.9 323.3 L1834.3 322.8 L1837.6 322.3 L1841.0 321.7 L1844.3 321.2 L1847.6 320.7 L1851.0 320.1 L1854.3 319.6 L1857.7 319.1 L1861.0 318.6 L1864.3 318.0 L1867.7 317.5 L1871.0 317.0 L1874.4 316.5 L1877.7 316.0 L1881.1 315.4 L1884.4 314.9 L1887.7 314.4 L1891.1 313.9 L1894.4 313.4 L1897.8 312.9 L1901.1 312.4 L1904.5 311.9 L1907.8 311.3 L1911.1 310.8 L1914.5 310.3 L1917.8 309.8 L1921.2 309.3 L1924.5 308.8 L1927.9 308.3 L1931.2 307.8 L1934.6 307.3 L1937.9 306.8 L1941.3 306.3 L1944.6 305.8 L1947.9 305.4 L1951.3 304.9 L1954.6 304.4 L1958.0 303.9 L1961.3 303.4 L1964.7 302.9 L1968.0 302.4 L1971.4 301.9 L1974.7 301.4 L1978.1 301.0 L1981.4 300.5 L1984.8 300.0 L1988.1 299.5 L1991.5 299.0 L1994.8 298.6 L1998.1 298.1 L2001.5 297.6 L2004.8 297.1 L2008.2 296.7 L2011.5 296.2 L2014.9 295.7 L2018.2 295.2 L2021.6 294.8 L2024.9 294.3 L2028.3 293.8 L2031.6 293.4 L2035.0 292.9 L2038.3 292.4 L2041.7 292.0 L2045.0 291.5 L2048.4 291.0 L2051.7 290.6 L2055.1 290.1 L2058.4 289.6 L2061.8 289.2 L2065.1 288.7 L2068.5 288.3 L2071.8 287.8 L2075.2 287.4 L2078.5 286.9 L2081.8 286.4 L2085.2 286.0 L2088.5 285.5 L2091.9 285.1 L2095.2 284.6 L2098.6 284.2 L2101.9 283.7 L2105.3 283.3 L2108.6 282.8 L2112.0 282.4 L2115.3 281.9 L2118.7 281.5 L2122.0 281.0 L2125.4 280.6 L2128.7 280.1 L2132.1 279.7 L2135.4 279.2 L2138.8 278.8 L2142.1 278.3 L2145.5 277.9 L2148.8 277.5 L2152.2 277.0 L2155.5 276.6 L2158.8 276.1 L2162.2 275.7 L2165.5 275.3 L2168.9 274.8 L2172.2 274.4 L2175.6 273.9 L2178.9 273.5 L2182.3 273.1 L2185.6 272.6 L2189.0 272.2 L2192.3 271.7 L2195.7 271.3 L2199.0 270.9 L2202.3 270.4 L2205.7 270.0 L2209.0 269.6 L2212.4 269.1 L2215.7 268.7 L2219.1 268.3 L2222.4 267.8 L2225.8 267.4 L2229.1 267.0 L2232.4 266.5 L2235.8 266.1 L2239.1 265.7 L2242.5 265.2 L2245.8 264.8 L2249.2 264.4 L2252.5 263.9 L2255.9 263.5 L2259.2 263.1 L2262.5 262.6 L2265.9 262.2 L2269.2 261.8 L2272.6 261.4 L2275.9 260.9 L2279.2 260.5 L2282.6 260.1 L2285.9 259.6 L2289.3 259.2 L2292.6 258.8 L2295.9 258.3 L2299.3 257.9 L2302.6 257.5 L2306.0 257.1 L2309.3 256.6 L2312.6 256.2 L2316.0 255.8 L2319.3 255.3 L2322.7 254.9 L2326.0 254.5 L2329.3 254.1 L2332.7 253.6 L2336.0 253.2 L2339.3 252.8" fill="none" stroke="#00c400" stroke-width="6.2" stroke-linejoin="round"/>
<path d="M357.0 1352.6 L358.2 1349.6 L359.4 1346.6 L360.6 1343.6 L361.8 1340.6 L363.0 1337.6 L364.3 1334.6 L365.6 1331.6 L366.8 1328.7 L368.1 1325.7 L369.4 1322.8 L370.7 1319.8 L372.0 1316.9 L373.4 1313.9 L374.7 1311.0 L376.1 1308.1 L377.5 1305.2 L378.9 1302.3 L380.3 1299.4 L381.7 1296.5 L383.1 1293.6 L384.6 1290.8 L386.0 1287.9 L387.5 1285.1 L388.9 1282.2 L390.4 1279.4 L391.9 1276.5 L393.5 1273.7 L395.0 1270.9 L396.5 1268.1 L398.1 1265.3 L399.6 1262.5 L401.2 1259.7 L402.8 1257.0 L404.4 1254.2 L406.0 1251.4 L407.7 1248.7 L409.3 1245.9 L410.9 1243.2 L412.6 1240.5 L414.3 1237.8 L416.0 1235.0 L417.6 1232.3 L419.4 1229.7 L421.1 1227.0 L422.8 1224.3 L424.5 1221.6 L426.3 1219.0 L428.1 1216.3 L429.8 1213.6 L431.6 1211.0 L433.4 1208.4 L435.2 1205.8 L437.0 1203.1 L438.9 1200.5 L440.7 1197.9 L442.6 1195.3 L444.4 1192.8 L446.3 1190.2 L448.2 1187.6 L450.1 1185.1 L452.0 1182.5 L453.9 1180.0 L455.8 1177.4 L457.8 1174.9 L459.7 1172.4 L461.7 1169.9 L463.6 1167.4 L465.6 1164.9 L467.6 1162.4 L469.6 1159.9 L471.6 1157.4 L473.6 1155.0 L475.6 1152.5 L477.7 1150.1 L479.7 1147.6 L481.8 1145.2 L483.8 1142.8 L485.9 1140.4 L488.0 1138.0 L490.1 1135.6 L492.2 1133.2 L494.3 1130.8 L496.4 1128.4 L498.6 1126.0 L500.7 1123.7 L502.8 1121.3 L505.0 1119.0 L507.2 1116.7 L509.4 1114.3 L511.5 1112.0 L513.7 1109.7 L515.9 1107.4 L518.1 1105.1 L520.4 1102.8 L522.6 1100.6 L524.8 1098.3 L527.1 1096.0 L529.3 1093.8 L531.6 1091.5 L533.9 1089.3 L536.2 1087.1 L538.5 1084.9 L540.7 1082.7 L543.1 1080.5 L545.4 1078.3 L547.7 1076.1 L550.0 1073.9 L552.4 1071.7 L554.7 1069.6 L557.1 1067.4 L559.4 1065.3 L561.8 1063.1 L564.2 1061.0 L566.6 1058.9 L568.9 1056.8 L571.3 1054.7 L573.8 1052.6 L576.2 1050.5 L578.6 1048.4 L581.0 1046.4 L583.5 1044.3 L585.9 1042.2 L588.4 1040.2 L590.8 1038.2 L593.3 1036.1 L595.8 1034.1 L598.2 1032.1 L600.7 1030.1 L603.2 1028.1 L605.7 1026.1 L608.2 1024.1 L610.7 1022.2 L613.3 1020.2 L615.8 1018.3 L618.3 1016.3 L620.9 1014.4 L623.4 1012.5 L626.0 1010.5 L628.5 1008.6 L631.1 1006.7 L633.7 1004.8 L636.2 1003.0 L638.8 1001.1 L641.4 999.2 L644.0 997.3 L646.6 995.5 L649.2 993.7 L651.8 991.8 L654.5 990.0 L657.1 988.2 L659.7 986.4 L662.3 984.6 L665.0 982.8 L667.6 981.0 L670.3 979.2 L672.9 977.5 L675.6 975.7 L678.3 973.9 L681.0 972.2 L683.6 970.5 L686.3 968.7 L689.0 967.0 L691.7 965.3 L694.4 963.6 L697.1 961.9 L699.8 960.2 L702.5 958.6 L705.2 956.9 L708.0 955.2 L710.7 953.6 L713.4 951.9 L716.2 950.3 L718.9 948.7 L721.6 947.0 L724.4 945.4 L727.2 943.8 L729.9 942.2 L732.7 940.6 L735.4 939.0 L738.2 937.4 L741.0 935.8 L743.7 934.3 L746.5 932.7 L749.3 931.1 L752.1 929.6 L754.9 928.0 L757.7 926.5 L760.5 925.0 L763.3 923.4 L766.1 921.9 L768.9 920.4 L771.7 918.9 L774.5 917.4 L777.3 915.9 L780.1 914.4 L783.0 912.9 L785.8 911.4 L788.6 909.9 L791.4 908.5 L794.3 907.0 L797.1 905.5 L799.9 904.1 L802.8 902.6 L805.6 901.2 L808.4 899.7 L811.3 898.3 L814.1 896.9 L817.0 895.5 L819.8 894.0 L822.7 892.6 L825.6 891.2 L828.4 889.8 L831.3 888.4 L834.2 887.0 L837.0 885.6 L839.9 884.2 L842.8 882.9 L845.6 881.5 L848.5 880.1 L851.4 878.8 L854.3 877.4 L857.2 876.1 L860.1 874.7 L862.9 873.4 L865.8 872.0 L868.7 870.7 L871.6 869.4 L874.5 868.1 L877.4 866.7 L880.3 865.4 L883.3 864.1 L886.2 862.8 L889.1 861.5 L892.0 860.2 L894.9 859.0 L897.8 857.7 L900.7 856.4 L903.7 855.1 L906.6 853.9 L909.5 852.6 L912.5 851.4 L915.4 850.1 L918.3 848.9 L921.3 847.6 L924.2 846.4 L927.1 845.2 L930.1 844.0 L933.0 842.7 L936.0 841.5 L938.9 840.3 L941.9 839.1 L944.8 837.9 L947.8 836.7 L950.8 835.5 L953.7 834.3 L956.7 833.2 L959.6 832.0 L962.6 830.8 L965.6 829.6 L968.6 828.5 L971.5 827.3 L974.5 826.2 L977.5 825.0 L980.5 823.9 L983.4 822.7 L986.4 821.6 L989.4 820.5 L992.4 819.3 L995.4 818.2 L998.4 817.1 L1001.3 816.0 L1004.3 814.9 L1007.3 813.8 L1010.3 812.7 L1013.3 811.6 L1016.3 810.5 L1019.3 809.4 L1022.3 808.3 L1025.3 807.2 L1028.3 806.2 L1031.3 805.1 L1034.4 804.0 L1037.4 803.0 L1040.4 801.9 L1043.4 800.9 L1046.4 799.8 L1049.4 798.8 L1052.4 797.7 L1055.5 796.7 L1058.5 795.6 L1061.5 794.6 L1064.5 793.6 L1067.5 792.6 L1070.6 791.5 L1073.6 790.5 L1076.6 789.5 L1079.6 788.5 L1082.7 787.5 L1085.7 786.5 L1088.7 785.5 L1091.8 784.5 L1094.8 783.5 L1097.8 782.5 L1100.9 781.5 L1103.9 780.6 L1107.0 779.6 L1110.0 778.6 L1113.0 777.6 L1116.1 776.7 L1119.1 775.7 L1122.2 774.7 L1125.2 773.8 L1128.3 772.8 L1131.3 771.9 L1134.4 770.9 L1137.4 770.0 L1140.5 769.1 L1143.5 768.1 L1146.6 767.2 L1149.6 766.3 L1152.7 765.3 L1155.7 764.4 L1158.8 763.5 L1161.8 762.6 L1164.9 761.7 L1168.0 760.7 L1171.0 759.8 L1174.1 758.9 L1177.1 758.0 L1180.2 757.1 L1183.3 756.2 L1186.3 755.3 L1189.4 754.5 L1192.5 753.6 L1195.5 752.7 L1198.6 751.8 L1201.7 750.9 L1204.7 750.0 L1207.8 749.2 L1210.9 748.3 L1213.9 747.4 L1217.0 746.6 L1220.1 745.7 L1223.1 744.9 L1226.2 744.0 L1229.3 743.2 L1232.4 742.3 L1235.4 741.5 L1238.5 740.6 L1241.6 739.8 L1244.7 738.9 L1247.7 738.1 L1250.8 737.3 L1253.9 736.4 L1257.0 735.6 L1260.1 734.8 L1263.1 734.0 L1266.2 733.2 L1269.3 732.3 L1272.4 731.5 L1275.5 730.7 L1278.6 729.9 L1281.6 729.1 L1284.7 728.3 L1287.8 727.5 L1290.9 726.7 L1294.0 725.9 L1297.1 725.1 L1300.2 724.3 L1303.3 723.6 L1306.4 722.8 L1309.4 722.0 L1312.5 721.2 L1315.6 720.4 L1318.7 719.7 L1321.8 718.9 L1324.9 718.1 L1328.0 717.4 L1331.1 716.6 L1334.2 715.9 L1337.3 715.1 L1340.4 714.4 L1343.5 713.6 L1346.6 712.9 L1349.7 712.1 L1352.8 711.4 L1355.9 710.6 L1359.0 709.9 L1362.1 709.2 L1365.2 708.4 L1368.3 707.7 L1371.4 707.0 L1374.5 706.2 L1377.6 705.5 L1380.7 704.8 L1383.8 704.1 L1387.0 703.4 L1390.1 702.7 L1393.2 701.9 L1396.3 701.2 L1399.4 700.5 L1402.5 699.8 L1405.6 699.1 L1408.7 698.4 L1411.8 697.7 L1414.9 697.0 L1418.1 696.4 L1421.2 695.7 L1424.3 695.0 L1427.4 694.3 L1430.5 693.6 L1433.6 692.9 L1436.8 692.3 L1439.9 691.6 L1443.0 690.9 L1446.1 690.2 L1449.2 689.6 L1452.3 688.9 L1455.5 688.2 L1458.6 687.6 L1461.7 686.9 L1464.8 686.3 L1467.9 685.6 L1471.1 685.0 L1474.2 684.3 L1477.3 683.7 L1480.4 683.0 L1483.6 682.4 L1486.7 681.7 L1489.8 681.1 L1492.9 680.5 L1496.1 679.8 L1499.2 679.2 L1502.3 678.6 L1505.5 677.9 L1508.6 677.3 L1511.7 676.7 L1514.8 676.1 L1518.0 675.5 L1521.1 674.8 L1524.2 674.2 L1527.4 673.6 L1530.5 673.0 L1533.6 672.4 L1536.8 671.8 L1539.9 671.2 L1543.0 670.6 L1546.2 670.0 L1549.3 669.4 L1552.4 668.8 L1555.6 668.2 L1558.7 667.6 L1561.8 667.0 L1565.0 666.4 L1568.1 665.8 L1571.3 665.2 L1574.4 664.7 L1577.5 664.1 L1580.7 663.5 L1583.8 662.9 L1586.9 662.4 L1590.1 661.8 L1593.2 661.2 L1596.4 660.6 L1599.5 660.1 L1602.7 659.5 L1605.8 658.9 L1608.9 658.4 L1612.1 657.8 L1615.2 657.3 L1618.4 656.7 L1621.5 656.2 L1624.7 655.6 L1627.8 655.0 L1630.9 654.5 L1634.1 654.0 L1637.2 653.4 L1640.4 652.9 L1643.5 652.3 L1646.7 651.8 L1649.8 651.2 L1653.0 650.7 L1656.1 650.2 L1659.3 649.6 L1662.4 649.1 L1665.6 648.6 L1668.7 648.0 L1671.9 647.5 L1675.0 647.0 L1678.2 646.5 L1681.3 646.0 L1684.5 645.4 L1687.6 644.9 L1690.8 644.4 L1693.9 643.9 L1697.1 643.4 L1700.2 642.9 L1703.4 642.3 L1706.5 641.8 L1709.7 641.3 L1712.9 640.8 L1716.0 640.3 L1719.2 639.8 L1722.3 639.3 L1725.5 638.8 L1728.6 638.3 L1731.8 637.8 L1734.9 637.3 L1738.1 636.8 L1741.3 636.3 L1744.4 635.9 L1747.6 635.4 L1750.7 634.9 L1753.9 634.4 L1757.0 633.9 L1760.2 633.4 L1763.4 632.9 L1766.5 632.5 L1769.7 632.0 L1772.8 631.5 L1776.0 631.0 L1779.2 630.6 L1782.3 630.1 L1785.5 629.6 L1788.6 629.1 L1791.8 628.7 L1795.0 628.2 L1798.1 627.7 L1801.3 627.3 L1804.4 626.8 L1807.6 626.3 L1810.8 625.9 L1813.9 625.4 L1817.1 625.0 L1820.3 624.5 L1823.4 624.1 L1826.6 623.6 L1829.7 623.1 L1832.9 622.7 L1836.1 622.2 L1839.2 621.8 L1842.4 621.3 L1845.6 620.9 L1848.7 620.5 L1851.9 620.0 L1855.1 619.6 L1858.2 619.1 L1861.4 618.7 L1864.6 618.2 L1867.7 617.8 L1870.9 617.4 L1874.0 616.9 L1877.2 616.5 L1880.4 616.1 L1883.5 615.6 L1886.7 615.2 L1889.9 614.8 L1893.0 614.3 L1896.2 613.9 L1899.4 613.5 L1902.5 613.0 L1905.7 612.6 L1908.9 612.2 L1912.1 611.8 L1915.2 611.3 L1918.4 610.9 L1921.6 610.5 L1924.7 610.1 L1927.9 609.7 L1931.1 609.2 L1934.2 608.8 L1937.4 608.4 L1940.6 608.0 L1943.7 607.6 L1946.9 607.2 L1950.1 606.8 L1953.2 606.3 L1956.4 605.9 L1959.6 605.5 L1962.7 605.1 L1965.9 604.7 L1969.1 604.3 L1972.3 603.9 L1975.4 603.5 L1978.6 603.1 L1981.8 602.7 L1984.9 602.3 L1988.1 601.9 L1991.3 601.5 L1994.4 601.1 L1997.6 600.7 L2000.8 600.3 L2003.9 599.9 L2007.1 599.5 L2010.3 599.1 L2013.5 598.7 L2016.6 598.3 L2019.8 597.9 L2023.0 597.5 L2026.1 597.1 L2029.3 596.7 L2032.5 596.3 L2035.6 595.9 L2038.8 595.5 L2042.0 595.2 L2045.2 594.8 L2048.3 594.4 L2051.5 594.0 L2054.7 593.6 L2057.8 593.2 L2061.0 592.8 L2064.2 592.4 L2067.3 592.1 L2070.5 591.7 L2073.7 591.3 L2076.9 590.9 L2080.0 590.5 L2083.2 590.2 L2086.4 589.8 L2089.5 589.4 L2092.7 589.0 L2095.9 588.6 L2099.0 588.3 L2102.2 587.9 L2105.4 587.5 L2108.6 587.1 L2111.7 586.7 L2114.9 586.4 L2118.1 586.0 L2121.2 585.6 L2124.4 585.2 L2127.6 584.9 L2130.7 584.5 L2133.9 584.1 L2137.1 583.7 L2140.2 583.4 L2143.4 583.0 L2146.6 582.6 L2149.7 582.3 L2152.9 581.9 L2156.1 581.5 L2159.3 581.1 L2162.4 580.8 L2165.6 580.4 L2168.8 580.0 L2171.9 579.7 L2175.1 579.3 L2178.3 578.9 L2181.4 578.6 L2184.6 578.2 L2187.8 577.8 L2190.9 577.5 L2194.1 577.1 L2197.3 576.7 L2200.4 576.4 L2203.6 576.0 L2206.8 575.6 L2209.9 575.3 L2213.1 574.9 L2216.3 574.5 L2219.4 574.2 L2222.6 573.8 L2225.8 573.4 L2228.9 573.1 L2232.1 572.7 L2235.2 572.3 L2238.4 572.0 L2241.6 571.6 L2244.7 571.2 L2247.9 570.9 L2251.1 570.5 L2254.2 570.1 L2257.4 569.8 L2260.6 569.4 L2263.7 569.1 L2266.9 568.7 L2270.1 568.3 L2273.2 568.0 L2276.4 567.6 L2279.5 567.2 L2282.7 566.9 L2285.9 566.5 L2289.0 566.1 L2292.2 565.8 L2295.3 565.4 L2298.5 565.1 L2301.7 564.7 L2304.8 564.3 L2308.0 564.0 L2311.1 563.6 L2314.3 563.2 L2317.5 562.9 L2320.6 562.5 L2323.8 562.1 L2326.9 561.8 L2330.1 561.4 L2333.3 561.0 L2336.4 560.7 L2339.6 560.3" fill="none" stroke="#ff4048" stroke-width="5.3" stroke-linejoin="round"/>
<g fill="#000"><circle cx="357.4" cy="628.6" r="5.3"/><circle cx="397.1" cy="628.6" r="5.3"/><circle cx="436.9" cy="628.6" r="5.3"/><circle cx="476.6" cy="628.6" r="5.3"/><circle cx="516.4" cy="628.6" r="5.3"/><circle cx="556.1" cy="628.6" r="5.3"/><circle cx="595.8" cy="628.6" r="5.3"/><circle cx="635.6" cy="628.6" r="5.3"/><circle cx="675.3" cy="628.6" r="5.3"/><circle cx="715.1" cy="628.6" r="5.3"/><circle cx="754.8" cy="628.6" r="5.3"/><circle cx="794.5" cy="628.6" r="5.3"/><circle cx="834.3" cy="628.6" r="5.3"/><circle cx="874.0" cy="628.6" r="5.3"/><circle cx="913.8" cy="628.6" r="5.3"/><circle cx="953.5" cy="628.6" r="5.3"/><circle cx="993.2" cy="628.6" r="5.3"/><circle cx="1033.0" cy="628.6" r="5.3"/><circle cx="1072.7" cy="628.6" r="5.3"/><circle cx="1112.5" cy="628.6" r="5.3"/><circle cx="1152.2" cy="628.6" r="5.3"/><circle cx="1191.9" cy="628.6" r="5.3"/><circle cx="1231.7" cy="628.6" r="5.3"/><circle cx="1271.4" cy="628.6" r="5.3"/><circle cx="1311.2" cy="628.6" r="5.3"/><circle cx="1350.9" cy="628.6" r="5.3"/><circle cx="1390.6" cy="628.6" r="5.3"/><circle cx="1430.4" cy="628.6" r="5.3"/><circle cx="1470.1" cy="628.6" r="5.3"/><circle cx="1509.9" cy="628.6" r="5.3"/><circle cx="1549.6" cy="628.6" r="5.3"/><circle cx="1589.3" cy="628.6" r="5.3"/><circle cx="1629.1" cy="628.6" r="5.3"/><circle cx="1668.8" cy="628.6" r="5.3"/><circle cx="1708.6" cy="628.6" r="5.3"/><circle cx="1748.3" cy="628.6" r="5.3"/><circle cx="1788.0" cy="628.6" r="5.3"/><circle cx="1827.8" cy="628.6" r="5.3"/><circle cx="1867.5" cy="628.6" r="5.3"/><circle cx="1907.3" cy="628.6" r="5.3"/><circle cx="1947.0" cy="628.6" r="5.3"/><circle cx="1986.7" cy="628.6" r="5.3"/><circle cx="2026.5" cy="628.6" r="5.3"/><circle cx="2066.2" cy="628.6" r="5.3"/><circle cx="2106.0" cy="628.6" r="5.3"/><circle cx="2145.7" cy="628.6" r="5.3"/><circle cx="2185.4" cy="628.6" r="5.3"/><circle cx="2225.2" cy="628.6" r="5.3"/><circle cx="2264.9" cy="628.6" r="5.3"/><circle cx="2304.7" cy="628.6" r="5.3"/></g>
<rect x="1761.2" y="1032" width="141" height="9.2" fill="#00c400"/><rect x="1761.2" y="1191.4" width="141" height="9.2" fill="#ff4048"/><text x="1981" y="1069.5" font-size="93" transform="translate(1981 0) scale(0.954 1) translate(-1981 0)">Lighter</text><text x="1981" y="1228" font-size="93" transform="translate(1981 0) scale(0.932 1) translate(-1981 0)">Heavier</text>
<text x="1342" y="1681" font-size="114" font-weight="bold" text-anchor="middle" transform="translate(1342 0) scale(0.97 1) translate(-1342 0)">Vitamin C intake (mg/d)</text><text x="0" y="0" font-size="114" font-weight="bold" text-anchor="middle" transform="translate(103 685) rotate(-90) scale(0.97 1)">Serum vitamin C (µmol/L)</text>
</svg>
</body></html>
